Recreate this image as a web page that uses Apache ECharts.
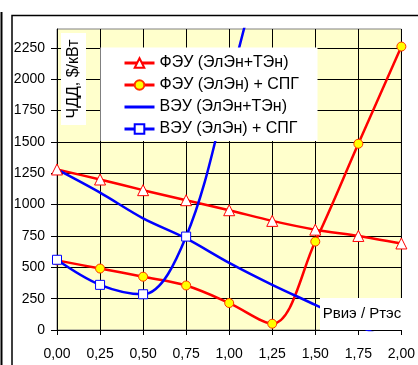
<!DOCTYPE html>
<html>
<head>
<meta charset="utf-8">
<script src="https://cdn.jsdelivr.net/npm/echarts@6/dist/echarts.min.js"></script>
<style>
html,body{margin:0;padding:0;background:#fff;}
#chart{width:418px;height:365px;}
</style>
</head>
<body>
<div id="chart"></div>
<script>
// ---- data ----
var xValues = [0, 0.25, 0.5, 0.75, 1.0, 1.25, 1.5, 1.75, 2.0];
var seriesNames = ['ФЭУ (ЭлЭн+ТЭн)', 'ФЭУ (ЭлЭн) + СПГ', 'ВЭУ (ЭлЭн+ТЭн)', 'ВЭУ (ЭлЭн) + СПГ'];
var fesTotal = [1280, 1200, 1115, 1035, 955, 870, 800, 750, 690];
var fesSpg   = [555, 490, 425, 355, 215, 50, 705, 1485, 2260];
var vesTotal = [1280, 1095, 890, 730, 535, 360, 200, 35, -130];
var vesSpg   = [560, 360, 285, 745, 1950, 3300, null, null, null];
var yTicks = [0, 250, 500, 750, 1000, 1250, 1500, 1750, 2000, 2250];
var yAxisTitle = 'ЧДД, $/кВт';
var xAxisTitle = 'Рвиэ / Ртэс';

function pairs(vals) {
  var out = [];
  for (var i = 0; i < xValues.length; i++) {
    if (vals[i] !== null) out.push([xValues[i], vals[i]]);
  }
  return out;
}

var chart = echarts.init(document.getElementById('chart'), null, {renderer: 'canvas'});
var FONT = 'Liberation Sans, Arial, sans-serif';

var option = {
  animation: false,
  backgroundColor: '#fff',
  grid: {
    left: 57, right: 13, top: 29, bottom: 35,
    show: true, backgroundColor: '#FFFFCC', borderColor: '#808080', borderWidth: 1
  },
  xAxis: {
    type: 'value', min: 0, max: 2, interval: 0.25,
    axisLine: {show: true, onZero: false, lineStyle: {color: '#000', width: 1}},
    axisTick: {show: true, length: 5, lineStyle: {color: '#000'}},
    splitLine: {show: true, lineStyle: {color: '#000', width: 1}},
    axisLabel: {
      margin: 17, color: '#000', fontSize: 14, fontFamily: FONT,
      formatter: function (v) { return v.toFixed(2).replace('.', ','); }
    }
  },
  yAxis: {
    type: 'value', min: 0, max: 2400, interval: 250,
    axisLine: {show: true, onZero: false, lineStyle: {color: '#000', width: 1}},
    axisTick: {show: true, length: 6, lineStyle: {color: '#000'}, customValues: yTicks},
    splitLine: {show: true, lineStyle: {color: '#000', width: 1}},
    axisLabel: {
      margin: 12, color: '#000', fontSize: 14, fontFamily: FONT,
      customValues: yTicks,
      formatter: function (v) { return v > 2250 ? '' : String(v); }
    }
  },
  legend: {
    orient: 'vertical', left: 123, top: 55, padding: 0,
    itemWidth: 30, itemHeight: 12, itemGap: 6, z: 60,
    lineStyle: {width: 3},
    textStyle: {fontSize: 16, fontFamily: FONT, color: '#000'},
    data: [
      {name: seriesNames[0], lineStyle: {width: 3}},
      {name: seriesNames[1], lineStyle: {width: 3}},
      {name: seriesNames[2], lineStyle: {width: 3}, itemStyle: {opacity: 0}},
      {name: seriesNames[3], lineStyle: {width: 3}}
    ]
  },
  series: [
    {
      name: seriesNames[0], type: 'line', data: pairs(fesTotal), smooth: 0.3,
      symbol: 'triangle', symbolSize: 11,
      lineStyle: {color: '#FF0000', width: 2.5},
      itemStyle: {color: '#FFFFFF', borderColor: '#FF0000', borderWidth: 1}
    },
    {
      name: seriesNames[1], type: 'line', data: pairs(fesSpg), smooth: 0.35,
      symbol: 'circle', symbolSize: 9,
      lineStyle: {color: '#FF0000', width: 2.5},
      itemStyle: {color: '#FFFF00', borderColor: '#FF3300', borderWidth: 1}
    },
    {
      name: seriesNames[2], type: 'line', data: pairs(vesTotal), smooth: 0.3,
      symbol: 'none', showSymbol: false,
      lineStyle: {color: '#0000FF', width: 2.5},
      itemStyle: {color: '#0000FF'}
    },
    {
      name: seriesNames[3], type: 'line', data: pairs(vesSpg), smooth: 0.35,
      symbol: 'rect', symbolSize: 9,
      lineStyle: {color: '#0000FF', width: 2.5},
      itemStyle: {color: '#FFFFFF', borderColor: '#0000FF', borderWidth: 1}
    }
  ],
  graphic: [
    {type: 'line', z: 50, shape: {x1: 1.5, y1: 12, x2: 1.5, y2: 365}, style: {stroke: '#000', lineWidth: 2}},
    {type: 'polyline', z: 50, shape: {points: [[418, 15.5], [12, 15.5], [12, 365]]}, style: {stroke: '#000', lineWidth: 1.5, fill: null}},
    {type: 'rect', z: 50, shape: {x: 61, y: 33, width: 25, height: 92}, style: {fill: '#fff'}},
    {type: 'text', z: 51, x: 74, y: 79, rotation: Math.PI / 2,
      style: {text: yAxisTitle, font: '16px ' + FONT, fill: '#000', align: 'center', verticalAlign: 'middle'}},
    {type: 'rect', z: 50, shape: {x: 100.5, y: 47.5, width: 217, height: 93.5}, style: {fill: '#fff'}},
    {type: 'rect', z: 50, shape: {x: 320, y: 298, width: 84.5, height: 32}, style: {fill: '#fff'}},
    {type: 'text', z: 51, x: 362, y: 314,
      style: {text: xAxisTitle, font: '15px ' + FONT, fill: '#000', align: 'center', verticalAlign: 'middle'}}
  ]
};
chart.setOption(option);
</script>
</body>
</html>
